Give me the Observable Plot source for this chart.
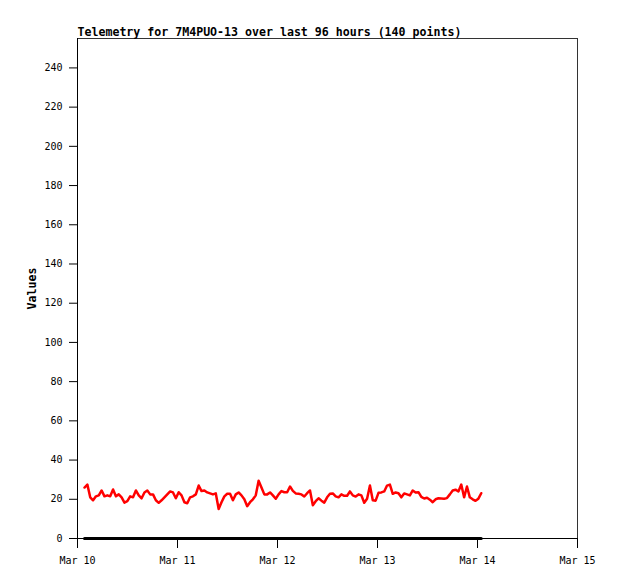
<!DOCTYPE html>
<html>
<head>
<meta charset="utf-8">
<script src="https://cdn.jsdelivr.net/npm/d3@7"></script>
<script src="https://cdn.jsdelivr.net/npm/@observablehq/plot@0.6"></script>
<style>
  html, body { margin: 0; padding: 0; background: #fff; }
  #chart svg { display: block; }
</style>
</head>
<body>
<div id="chart"></div>
<script>
const title = "Telemetry for 7M4PUO-13 over last 96 hours (140 points)";
const yLabel = "Values";
const startTime = "2024-03-10T01:41:00Z";
const stepMinutes = 41.1;
const values = [
  26, 27.5, 21, 19.5, 21.5, 22, 24.5, 21.5, 22, 21.5,
  25, 21.5, 22.5, 21, 18.3, 19, 21.5, 21, 24.5, 22,
  20.5, 23.5, 24.5, 22.5, 22.5, 19.5, 18.2, 19.5, 21, 22.5,
  24, 23.5, 20.5, 23.6, 22, 18.5, 18, 21, 21.5, 22.5,
  27, 24.2, 24.5, 23.5, 23, 22.5, 23, 15, 18.5, 21.5,
  22.8, 22.8, 19.5, 22.5, 23.5, 22, 20, 16.5, 18.5, 20,
  22, 29.5, 26, 22.5, 22.5, 23.5, 22, 20.3, 22.5, 24.2,
  23.6, 23.6, 26.5, 24.3, 23, 22.8, 22.5, 21.4, 23.1, 24.5,
  17, 19, 20.5, 19.3, 18.3, 21, 22.8, 23, 21.5, 21,
  22.5, 21.8, 21.8, 24, 22, 21.4, 22.5, 22, 18.2, 20.3,
  27, 19.5, 19.3, 23.3, 23.5, 24, 27, 27.5, 22.8, 23.5,
  23.1, 21, 23, 22.5, 22, 24.5, 23.5, 23.6, 21.2, 20.4,
  20.8, 19.8, 18.5, 20, 20.5, 20.4, 20.3, 20.6, 22.5, 24.5,
  24.9, 24, 27.5, 21, 26.5, 21, 20, 19.2, 20.3, 23.1
];
const baseline = values.map(() => 0);
const xDomain = ["2024-03-10T00:00:00Z", "2024-03-15T00:00:00Z"];
const yDomain = [0, 255];
const yTicks = [0, 20, 40, 60, 80, 100, 120, 140, 160, 180, 200, 220, 240];

const t0 = new Date(startTime).getTime();
const rows = values.map((v, i) => ({t: new Date(t0 + i * stepMinutes * 60000), v, z: baseline[i]}));
const xTicks = d3.utcDay.range(new Date(xDomain[0]), new Date(new Date(xDomain[1]).getTime() + 1));

const mono = "'DejaVu Sans Mono', 'Liberation Mono', monospace";

const chart = Plot.plot({
  width: 618,
  height: 579,
  marginLeft: 77,
  marginRight: 41,
  marginTop: 38,
  marginBottom: 41,
  style: {fontFamily: mono, fontSize: "10px", color: "#000", background: "#fff"},
  x: {type: "utc", domain: xDomain.map(d => new Date(d))},
  y: {domain: yDomain},
  marks: [
    Plot.frame({stroke: "#333"}),
    Plot.axisY({ticks: yTicks, tickSize: 8, tickPadding: 7, label: null, tickFormat: d => String(d), fontSize: 10}),
    Plot.axisX({ticks: xTicks, tickSize: 10, tickPadding: 8, label: null, tickFormat: d3.utcFormat("%b %d"), fontSize: 10}),
    Plot.ruleX([xDomain[0]].map(d => new Date(d)), {stroke: "#000"}),
    Plot.ruleY([0], {stroke: "#000"}),
    Plot.line(rows, {x: "t", y: "z", stroke: "#000", strokeWidth: 3}),
    Plot.line(rows, {x: "t", y: "v", stroke: "#ff0000", strokeWidth: 2.5, curve: "linear"}),
    Plot.text([title], {frameAnchor: "top-left", textAnchor: "start", lineAnchor: "bottom", dy: -3, fontWeight: "bold", fontSize: 11.6, fill: "#000"}),
    Plot.text([yLabel], {frameAnchor: "left", textAnchor: "middle", lineAnchor: "middle", rotate: -90, dx: -45, fontWeight: "bold", fontSize: 11.6, fill: "#000"})
  ]
});
document.getElementById("chart").appendChild(chart);
</script>
</body>
</html>
